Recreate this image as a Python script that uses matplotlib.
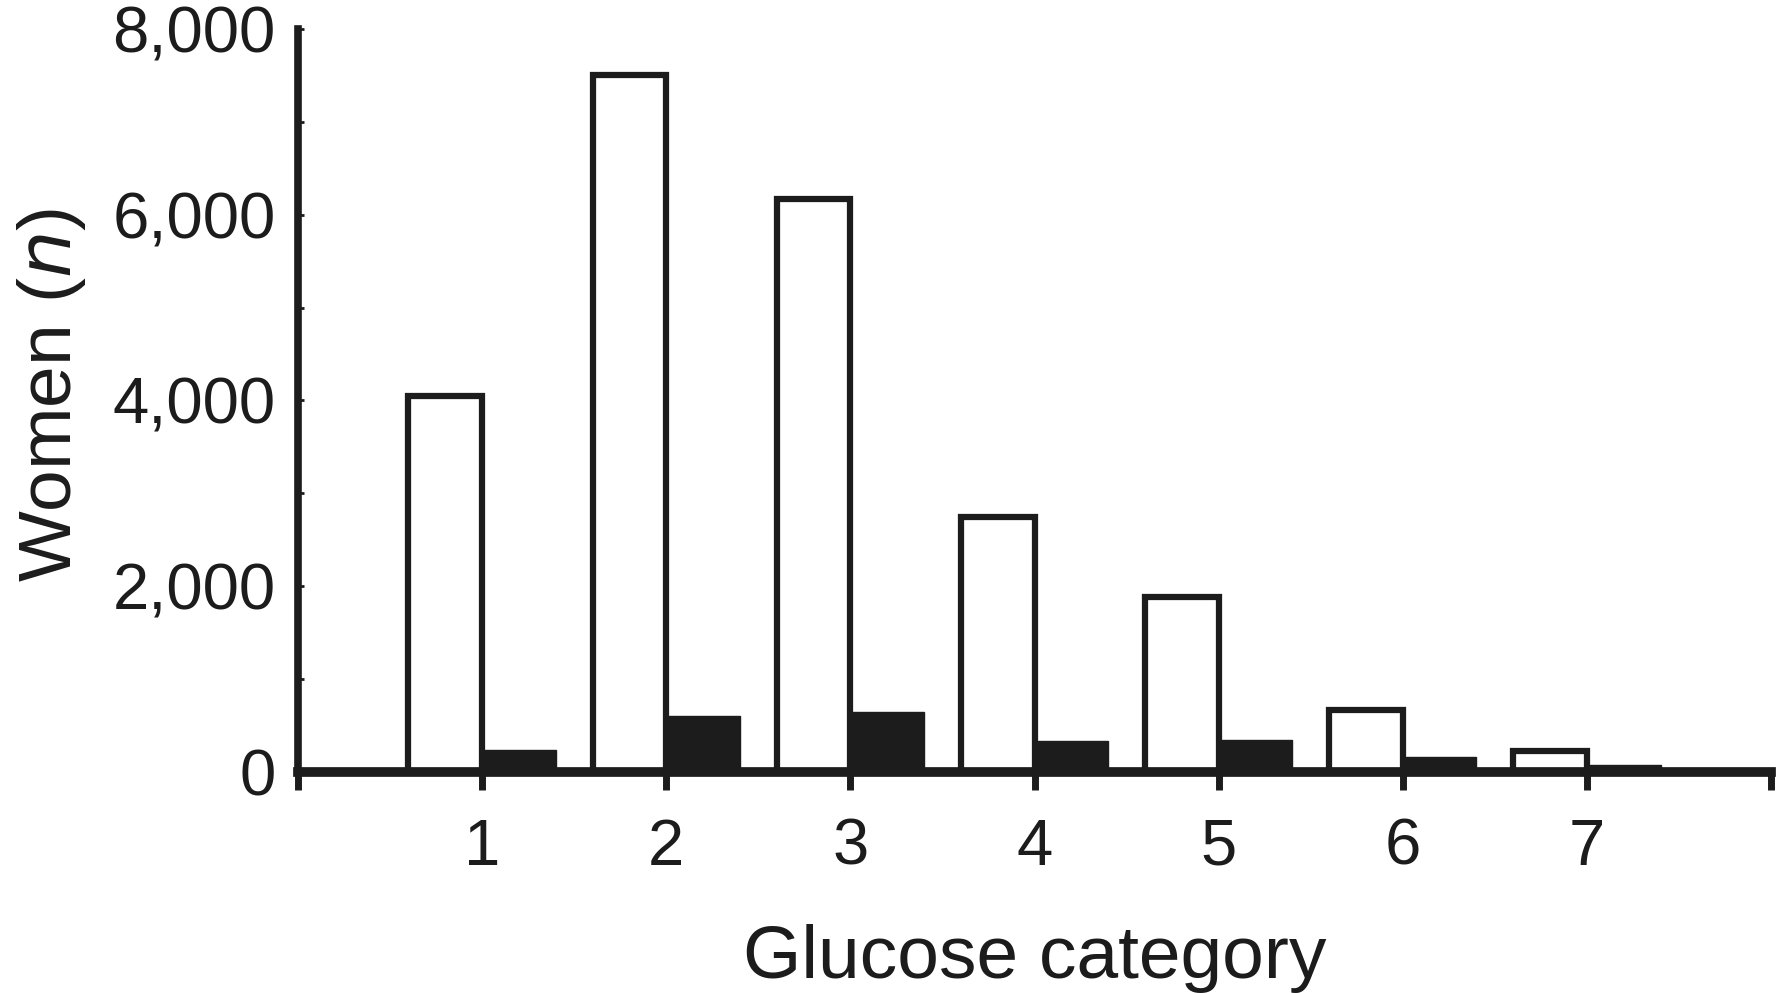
import matplotlib
matplotlib.use('Agg')
import matplotlib.pyplot as plt
from matplotlib.ticker import MultipleLocator

# glucose categories and number of women (white - all, black - second series)
categories = [1, 2, 3, 4, 5, 6, 7]
white_vals = [4050, 7500, 6170, 2750, 1880, 670, 230]
black_vals = [240, 600, 650, 330, 340, 160, 75]
y_ticks = [0, 2000, 4000, 6000, 8000]
y_labels = ['0', '2,000', '4,000', '6,000', '8,000']
x_labels = ['1', '2', '3', '4', '5', '6', '7']

plt.rcParams['font.family'] = ['Liberation Sans', 'DejaVu Sans']
ink = '#1c1c1c'

fig = plt.figure(figsize=(17.8, 9.93), dpi=100)
ax = fig.add_axes([0.1674, 0.2226, 0.8276, 0.7482])

# white bar left of the tick, black bar right of the tick
ax.bar(categories, white_vals, width=-0.4, align='edge', color='white',
	edgecolor=ink, linewidth=4.5, zorder=2)
ax.bar(categories, black_vals, width=0.4, align='edge', color=ink,
	edgecolor=ink, linewidth=1, zorder=2)

ax.set_xlim(0, 8)
ax.set_ylim(0, 8000)

for s in ['top', 'right']:
	ax.spines[s].set_visible(False)
ax.spines['left'].set_linewidth(5.5)
ax.spines['bottom'].set_linewidth(7)
ax.spines['left'].set_color(ink)
ax.spines['bottom'].set_color(ink)
ax.spines['left'].set_zorder(3)
ax.spines['bottom'].set_zorder(3)

# x: big ticks down at each integer, tiny ones up at halves
ax.set_xticks(range(0, 9))
ax.set_xticklabels([''] + x_labels + [''])
ax.xaxis.set_minor_locator(MultipleLocator(0.5))
ax.tick_params(axis='x', which='major', direction='out', length=13, width=5,
	color=ink, labelsize=47, pad=20, labelcolor=ink)
ax.tick_params(axis='x', which='minor', direction='in', length=3, width=2, color=ink)

# y: tiny inward ticks every 1000
ax.set_yticks(y_ticks)
ax.set_yticklabels(y_labels)
ax.yaxis.set_minor_locator(MultipleLocator(1000))
ax.tick_params(axis='y', which='major', direction='in', length=4, width=2,
	color=ink, labelsize=47, pad=16, labelcolor=ink)
ax.tick_params(axis='y', which='minor', direction='in', length=4, width=2, color=ink)

fig.text(0.5815, 0.035, 'Glucose category', ha='center', va='center',
	fontsize=54, color=ink)
fig.text(0.0287, 0.602, 'Women ($\\it{n}$)', ha='center', va='center',
	rotation=90, fontsize=54, color=ink)

fig.savefig('out.png', dpi=100)
